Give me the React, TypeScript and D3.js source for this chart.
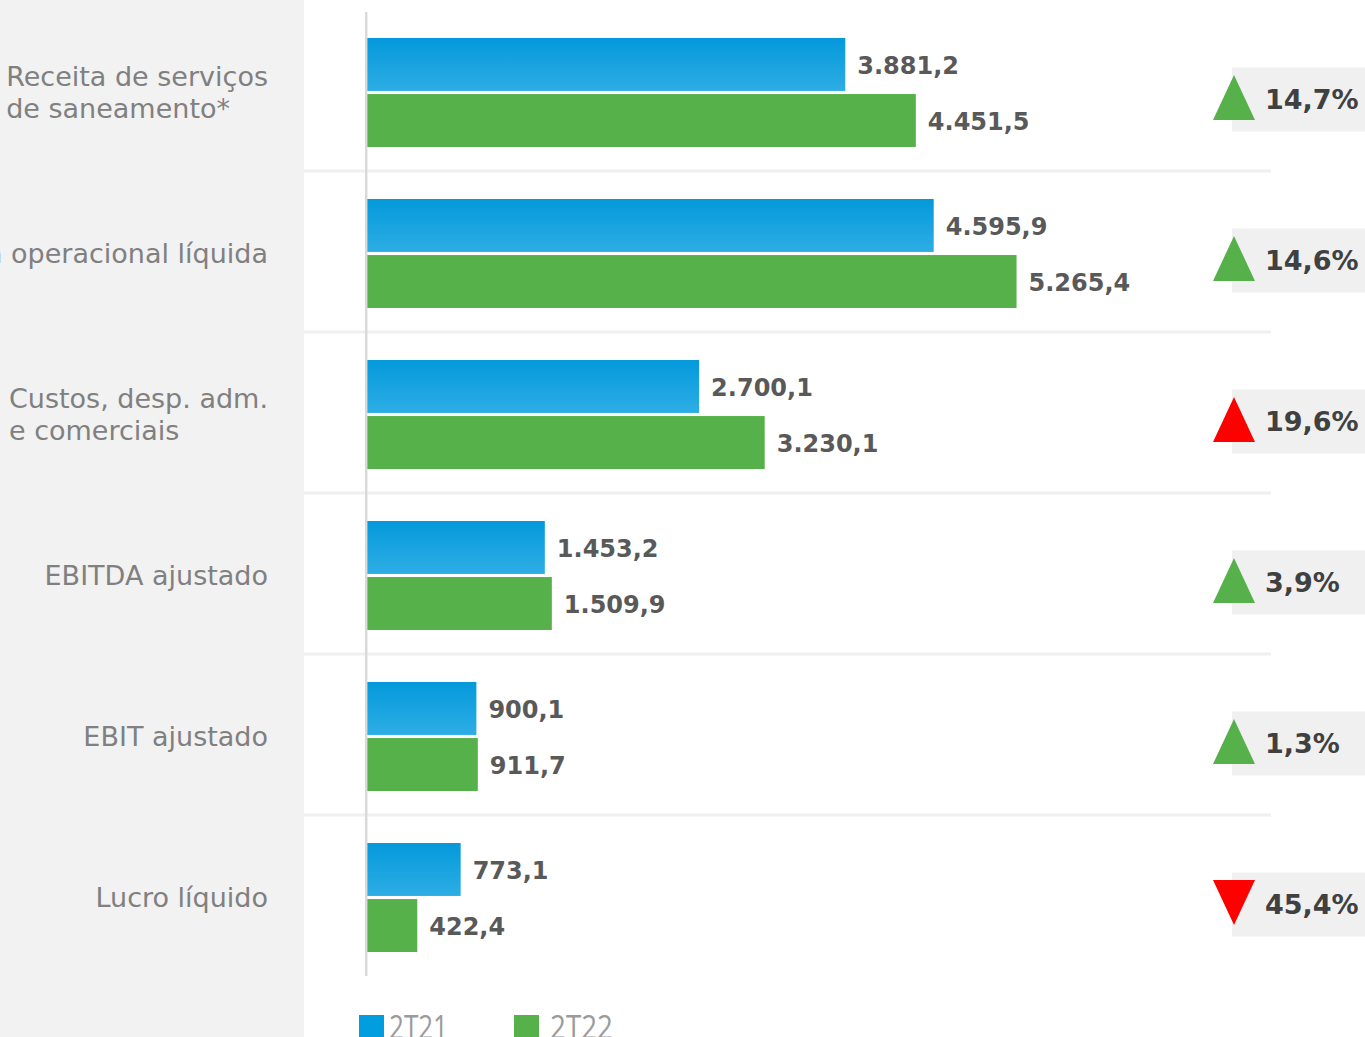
import React, { useEffect, useRef } from "react";
import * as d3 from "d3";

// categories (multi-line labels are split per line)
const categories: string[][] = [
  ["Receita de serviços", "de saneamento*"],
  ["Receita operacional líquida"],
  ["Custos, desp. adm.", "e comerciais"],
  ["EBITDA ajustado"],
  ["EBIT ajustado"],
  ["Lucro líquido"],
];
const series = ["2T21", "2T22"];
const values2T21 = [3881.2, 4595.9, 2700.1, 1453.2, 900.1, 773.1];
const values2T22 = [4451.5, 5265.4, 3230.1, 1509.9, 911.7, 422.4];
const changeLabels = ["14,7%", "14,6%", "19,6%", "3,9%", "1,3%", "45,4%"];
const changeDirection = ["up", "up", "up", "up", "up", "down"];
const changeFavorable = [true, true, false, true, true, false];

const W = 1365;
const H = 1037;
const FONT = "'DejaVu Sans', Verdana, sans-serif";

export default function App() {
  const svgRef = useRef<SVGSVGElement>(null);

  useEffect(() => {
    if (!svgRef.current) return;
    const svg = d3.select(svgRef.current);
    svg.selectAll("*").remove();

    const keys = categories.map((c) => c.join(" "));
    const fmt = d3
      .formatLocale({ decimal: ",", thousands: ".", grouping: [3], currency: ["", ""] })
      .format(",.1f");

    const y = d3.scaleBand<string>().domain(keys).range([12, 12 + 161 * keys.length]).paddingInner(0);
    const yInner = d3.scaleBand<string>().domain(series).range([0, 109]).paddingInner(0.055);
    const x = d3.scaleLinear().domain([0, 7000]).range([365, 1231.2]);
    const innerOffset = y.bandwidth() / 2 - 54.5;

    // gradient for blue bars
    const defs = svg.append("defs");
    const grad = defs.append("linearGradient").attr("id", "blueGrad")
      .attr("x1", "0%").attr("y1", "0%").attr("x2", "0%").attr("y2", "100%");
    grad.append("stop").attr("offset", "0%").attr("stop-color", "#0499db");
    grad.append("stop").attr("offset", "100%").attr("stop-color", "#2eade5");

    // left panel
    svg.append("rect").attr("x", 0).attr("y", 0).attr("width", 304).attr("height", H).attr("fill", "#f2f2f2");

    // row separators
    keys.slice(1).forEach((k) => {
      svg.append("line")
        .attr("x1", 304).attr("x2", 1271)
        .attr("y1", (y(k) as number) - 2).attr("y2", (y(k) as number) - 2)
        .attr("stroke", "#f0f0f0").attr("stroke-width", 3);
    });

    // category labels
    keys.forEach((k, i) => {
      const lines = categories[i];
      const cy = (y(k) as number) + y.bandwidth() / 2;
      const lh = 32.5;
      const g = svg.append("g");
      const texts = lines.map((line, j) =>
        g.append("text")
          .attr("y", cy + 9.5 + (j - (lines.length - 1) / 2) * lh)
          .attr("font-family", FONT)
          .attr("font-size", 27)
          .attr("fill", "#808080")
          .text(line)
      );
      const widths = texts.map((t) => (t.node() as SVGTextElement).getComputedTextLength());
      const left = 268 - d3.max(widths)!;
      texts.forEach((t, j) => t.attr("x", lines.length > 1 ? left : 268 - widths[j]));
    });

    // bars
    const seriesData = [values2T21, values2T22];
    const fills = ["url(#blueGrad)", "#56b14b"];
    series.forEach((s, si) => {
      keys.forEach((k, i) => {
        const v = seriesData[si][i];
        const by = (y(k) as number) + innerOffset + (yInner(s) as number);
        svg.append("rect")
          .attr("x", x(0)).attr("y", by)
          .attr("width", x(v) - x(0)).attr("height", yInner.bandwidth())
          .attr("fill", fills[si]);
        svg.append("text")
          .attr("x", x(v) + 12)
          .attr("y", by + yInner.bandwidth() / 2 + 9.5)
          .attr("font-family", FONT).attr("font-weight", "bold").attr("font-size", 24)
          .attr("fill", "#595959")
          .text(fmt(v));
      });
    });

    // axis line
    svg.append("line")
      .attr("x1", 366.2).attr("x2", 366.2).attr("y1", 12).attr("y2", 976)
      .attr("stroke", "#d9d9d9").attr("stroke-width", 2.5);

    // change indicators
    keys.forEach((k, i) => {
      const cy = (y(k) as number) + y.bandwidth() / 2;
      svg.append("rect")
        .attr("x", 1232).attr("y", cy + 7 - 32)
        .attr("width", 133).attr("height", 64)
        .attr("fill", "#f0f0f0");
      const tx = 1234;
      const ty = cy + 5;
      const up = changeDirection[i] === "up";
      const path = up
        ? `M${tx - 21},${ty + 22.5}L${tx + 21},${ty + 22.5}L${tx},${ty - 22.5}Z`
        : `M${tx - 21},${ty - 22.5}L${tx + 21},${ty - 22.5}L${tx},${ty + 22.5}Z`;
      svg.append("path").attr("d", path).attr("fill", changeFavorable[i] ? "#56b14b" : "#ff0000");
      svg.append("text")
        .attr("x", 1265).attr("y", cy + 7 + 9.5)
        .attr("font-family", FONT).attr("font-weight", "bold").attr("font-size", 27)
        .attr("fill", "#404040")
        .text(changeLabels[i]);
    });

    // legend
    const legendX = [359, 514];
    const legendColors = ["#009ddf", "#56b14b"];
    const legendTextX = [389, 550];
    const legendTextW = [59, 63];
    series.forEach((s, si) => {
      svg.append("rect")
        .attr("x", legendX[si]).attr("y", 1015)
        .attr("width", 25).attr("height", 25)
        .attr("fill", legendColors[si]);
      svg.append("text")
        .attr("x", legendTextX[si]).attr("y", 1039)
        .attr("font-family", "'Open Sans', sans-serif").attr("font-size", 33)
        .attr("textLength", legendTextW[si]).attr("lengthAdjust", "spacingAndGlyphs")
        .attr("fill", "#9b9b9b")
        .text(s);
    });
  }, []);

  return (
    <div style={{ position: "absolute", left: 0, top: 0, width: W, height: H, background: "#fff" }}>
      <svg ref={svgRef} width={W} height={H} style={{ display: "block" }} />
    </div>
  );
}
